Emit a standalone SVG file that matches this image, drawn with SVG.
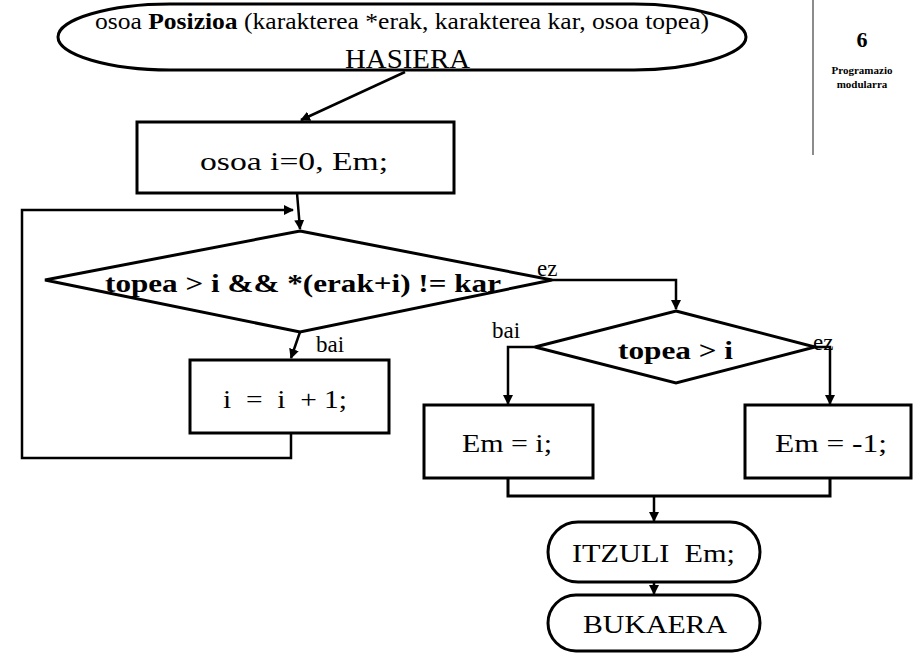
<svg xmlns="http://www.w3.org/2000/svg" width="913" height="655" viewBox="0 0 913 655" font-family="Liberation Serif, serif">
  <defs>
    <marker id="arrow" viewBox="0 0 10 10" refX="9" refY="5" markerWidth="4" markerHeight="4" orient="auto" markerUnits="strokeWidth">
      <path d="M0,0 L10,5 L0,10 z" fill="#000"/>
    </marker>
    <style>
      .shape { fill: #fff; stroke: #000; stroke-width: 3; }
      .line { fill: none; stroke: #000; stroke-width: 3; }
      .arr { fill: none; stroke: #000; stroke-width: 2.5; marker-end: url(#arrow); }
      .t { font-family: "Liberation Serif", serif; fill: #000; }
      .lbl { font-size: 26px; }
      .cond { font-size: 25px; font-weight: bold; }
      .tag { font-size: 23px; }
    </style>
  </defs>
  <rect width="913" height="655" fill="#fff"/>

  <!-- chapter tab -->
  <g id="chapter">
    <line x1="813" y1="0" x2="813" y2="155" stroke="#666" stroke-width="1.5"/>
    <text class="t" font-family="Liberation Serif, serif" x="862" y="47" font-size="22" font-weight="bold" text-anchor="middle">6</text>
    <text class="t" font-family="Liberation Serif, serif" x="862" y="74" font-size="11" font-weight="bold" text-anchor="middle">Programazio</text>
    <text class="t" font-family="Liberation Serif, serif" x="862" y="88" font-size="11" font-weight="bold" text-anchor="middle">modularra</text>
  </g>

  <!-- connectors -->
  <g id="connectors">
    <line class="arr" x1="405" y1="72" x2="301" y2="120"/>
    <line class="arr" x1="297" y1="193" x2="300" y2="229"/>
    <polyline class="arr" points="291,433 291,458 22,458 22,210 293,210"/>
    <line class="arr" x1="300" y1="332" x2="291" y2="358"/>
    <polyline class="arr" points="552,280 676,280 676,309"/>
    <polyline class="arr" points="535,347 508,347 508,404"/>
    <polyline class="arr" points="815,347 830,347 830,404"/>
    <polyline class="line" points="508,478 508,496 830,496 830,478"/>
    <line class="arr" x1="654" y1="496" x2="654" y2="521"/>
    <line class="arr" x1="654" y1="582" x2="654" y2="594"/>
    <text class="t tag" font-family="Liberation Serif, serif" x="537" y="276">ez</text>
    <text class="t tag" font-family="Liberation Serif, serif" x="316" y="352">bai</text>
    <text class="t tag" font-family="Liberation Serif, serif" x="492" y="338">bai</text>
    <text class="t tag" font-family="Liberation Serif, serif" x="813" y="350">ez</text>
  </g>

  <!-- start terminal: function header and HASIERA -->
  <g id="start">
    <path class="shape" d="M170,4 H634 C690,4 746,19 746,37 C746,55 690,70 634,70 H170 C110,70 58,55 58,37 C58,19 110,4 170,4 Z"/>
    <text class="t" font-family="Liberation Serif, serif" x="95" y="29" font-size="24" textLength="614" lengthAdjust="spacingAndGlyphs">osoa <tspan font-weight="bold">Posizioa</tspan> (karakterea *erak, karakterea kar, osoa topea)</text>
    <text class="t" font-family="Liberation Serif, serif" x="345" y="68" font-size="27" textLength="125" lengthAdjust="spacingAndGlyphs">HASIERA</text>
  </g>

  <g id="init">
    <rect class="shape" x="137" y="122" width="317" height="71"/>
    <text class="t lbl" font-family="Liberation Serif, serif" x="200" y="170" textLength="188" lengthAdjust="spacingAndGlyphs">osoa i=0, Em;</text>
  </g>

  <g id="loop-cond">
    <polygon class="shape" points="300,231 552,280 300,332 45,280"/>
    <text class="t cond" font-family="Liberation Serif, serif" x="105" y="292" textLength="396" lengthAdjust="spacingAndGlyphs">topea &gt; i &amp;&amp; *(erak+i) != kar</text>
  </g>

  <g id="increment">
    <rect class="shape" x="190" y="360" width="199" height="73"/>
    <text class="t lbl" font-family="Liberation Serif, serif" x="223" y="408" textLength="124" lengthAdjust="spacingAndGlyphs" xml:space="preserve">i  =  i  + 1;</text>
  </g>

  <g id="found-cond">
    <polygon class="shape" points="676,311 815,347 676,383 535,347"/>
    <text class="t cond" font-family="Liberation Serif, serif" x="618" y="359" textLength="115" lengthAdjust="spacingAndGlyphs">topea &gt; i</text>
  </g>

  <g id="set-index">
    <rect class="shape" x="424" y="405" width="169" height="73"/>
    <text class="t lbl" font-family="Liberation Serif, serif" x="462" y="452" textLength="90" lengthAdjust="spacingAndGlyphs">Em = i;</text>
  </g>

  <g id="set-missing">
    <rect class="shape" x="745" y="405" width="166" height="73"/>
    <text class="t lbl" font-family="Liberation Serif, serif" x="775" y="452" textLength="112" lengthAdjust="spacingAndGlyphs">Em = -1;</text>
  </g>

  <g id="return">
    <rect class="shape" x="548" y="522" width="212" height="60" rx="30" ry="30"/>
    <text class="t lbl" font-family="Liberation Serif, serif" x="572" y="562" textLength="163" lengthAdjust="spacingAndGlyphs" xml:space="preserve">ITZULI  Em;</text>
  </g>

  <g id="end">
    <rect class="shape" x="548" y="595" width="212" height="56" rx="28" ry="28"/>
    <text class="t lbl" font-family="Liberation Serif, serif" x="583" y="633" textLength="144" lengthAdjust="spacingAndGlyphs">BUKAERA</text>
  </g>
</svg>
